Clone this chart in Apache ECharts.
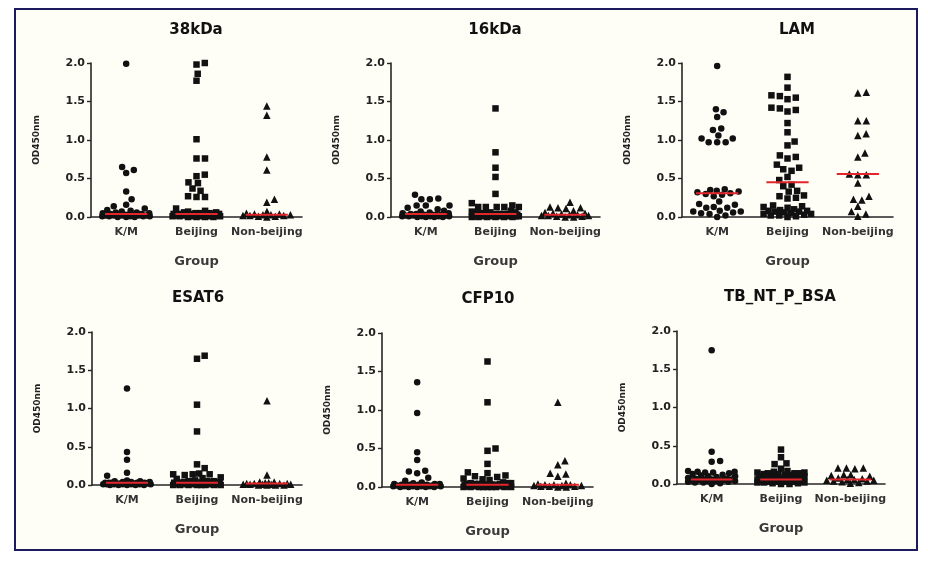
<!DOCTYPE html>
<html><head><meta charset="utf-8">
<script src="https://cdn.jsdelivr.net/npm/echarts@6/dist/echarts.min.js"></script>
<style>html,body{margin:0;padding:0;background:#fff}#c{width:928px;height:561px}</style>
</head><body><div id="c"></div>
<script>
// ---------------- DATA ----------------
const categories = ['K/M', 'Beijing', 'Non-beijing'];
const panelTitles = ['38kDa', '16kDa', 'LAM', 'ESAT6', 'CFP10', 'TB_NT_P_BSA'];
const yTickValues = [0, 0.5, 1.0, 1.5, 2.0];
const yAxisTitle = 'OD450nm';
const xAxisTitle = 'Group';

// 38kDa
const km38 = [1.99, 0.65, 0.61, 0.57, 0.33, 0.23, 0.16, 0.14, 0.11, 0.09, 0.08, 0.07, 0.06, 0.06, 0.05, 0.05, 0.04, 0.04, 0.03, 0.03, 0.03, 0.03, 0.02, 0.02, 0.02, 0.02, 0.02, 0.01, 0.01, 0.01, 0.01, 0.01, 0.00, 0.00, 0.00];
const bj38 = [2.00, 1.98, 1.86, 1.77, 1.01, 0.76, 0.76, 0.55, 0.53, 0.45, 0.44, 0.37, 0.34, 0.27, 0.26, 0.26, 0.11, 0.08, 0.07, 0.06, 0.06, 0.05, 0.05, 0.05, 0.04, 0.04, 0.04, 0.04, 0.03, 0.03, 0.03, 0.03, 0.03, 0.03, 0.02, 0.02, 0.02, 0.02, 0.02, 0.02, 0.01, 0.01, 0.01, 0.01, 0.01, 0.01, 0.00, 0.00, 0.00, 0.00];
const nb38 = [1.44, 1.32, 0.78, 0.61, 0.23, 0.19, 0.07, 0.05, 0.04, 0.04, 0.03, 0.03, 0.03, 0.02, 0.02, 0.02, 0.01, 0.01, 0.00];
const med38 = [0.04, 0.04, 0.03];

// 16kDa
const km16 = [0.29, 0.24, 0.23, 0.23, 0.15, 0.15, 0.15, 0.12, 0.10, 0.08, 0.07, 0.06, 0.05, 0.05, 0.04, 0.04, 0.03, 0.03, 0.03, 0.03, 0.02, 0.02, 0.02, 0.02, 0.02, 0.01, 0.01, 0.01, 0.01, 0.01, 0.01, 0.00, 0.00, 0.00, 0.00];
const bj16 = [1.41, 0.84, 0.64, 0.52, 0.30, 0.18, 0.15, 0.13, 0.13, 0.13, 0.13, 0.13, 0.08, 0.07, 0.06, 0.06, 0.05, 0.05, 0.05, 0.04, 0.04, 0.04, 0.04, 0.03, 0.03, 0.03, 0.03, 0.03, 0.03, 0.03, 0.02, 0.02, 0.02, 0.02, 0.02, 0.02, 0.02, 0.01, 0.01, 0.01, 0.01, 0.01, 0.01, 0.01, 0.00, 0.00, 0.00, 0.00, 0.00, 0.00];
const nb16 = [0.19, 0.13, 0.12, 0.12, 0.11, 0.08, 0.06, 0.05, 0.05, 0.04, 0.03, 0.03, 0.02, 0.02, 0.02, 0.01, 0.01, 0.00, 0.00];
const med16 = [0.04, 0.04, 0.03];

// LAM
const kmLAM = [1.96, 1.40, 1.36, 1.30, 1.15, 1.13, 1.06, 1.02, 1.02, 0.97, 0.97, 0.97, 0.36, 0.35, 0.34, 0.33, 0.32, 0.31, 0.30, 0.29, 0.27, 0.20, 0.17, 0.16, 0.13, 0.12, 0.12, 0.08, 0.07, 0.07, 0.06, 0.05, 0.04, 0.02, 0.00];
const bjLAM = [1.82, 1.68, 1.58, 1.57, 1.55, 1.53, 1.42, 1.41, 1.39, 1.37, 1.22, 1.10, 0.98, 0.93, 0.80, 0.78, 0.76, 0.68, 0.64, 0.62, 0.60, 0.52, 0.48, 0.42, 0.40, 0.34, 0.33, 0.28, 0.27, 0.25, 0.24, 0.15, 0.14, 0.13, 0.12, 0.10, 0.09, 0.08, 0.08, 0.07, 0.07, 0.06, 0.05, 0.04, 0.04, 0.03, 0.02, 0.02, 0.01, 0.00];
const nbLAM = [1.62, 1.61, 1.25, 1.25, 1.08, 1.06, 0.83, 0.78, 0.56, 0.55, 0.55, 0.44, 0.27, 0.23, 0.22, 0.14, 0.07, 0.04, 0.01];
const medLAM = [0.31, 0.45, 0.56];

// ESAT6
const kmES = [1.26, 0.43, 0.33, 0.16, 0.12, 0.06, 0.05, 0.05, 0.04, 0.04, 0.04, 0.03, 0.03, 0.03, 0.03, 0.03, 0.02, 0.02, 0.02, 0.02, 0.02, 0.02, 0.02, 0.01, 0.01, 0.01, 0.01, 0.01, 0.01, 0.01, 0.00, 0.00, 0.00, 0.00, 0.00];
const bjES = [1.69, 1.65, 1.05, 0.70, 0.27, 0.22, 0.15, 0.14, 0.14, 0.14, 0.13, 0.10, 0.09, 0.08, 0.06, 0.05, 0.05, 0.05, 0.04, 0.04, 0.04, 0.04, 0.03, 0.03, 0.03, 0.03, 0.03, 0.03, 0.02, 0.02, 0.02, 0.02, 0.02, 0.02, 0.02, 0.01, 0.01, 0.01, 0.01, 0.01, 0.01, 0.01, 0.00, 0.00, 0.00, 0.00, 0.00, 0.00, 0.00, 0.00];
const nbES = [1.10, 0.13, 0.04, 0.04, 0.03, 0.03, 0.02, 0.02, 0.02, 0.02, 0.01, 0.01, 0.01, 0.01, 0.01, 0.00, 0.00, 0.00, 0.00];
const medES = [0.03, 0.03, 0.02];

// CFP10
const kmCF = [1.36, 0.96, 0.45, 0.35, 0.21, 0.20, 0.18, 0.12, 0.08, 0.06, 0.05, 0.04, 0.04, 0.04, 0.03, 0.03, 0.03, 0.03, 0.02, 0.02, 0.02, 0.02, 0.02, 0.02, 0.01, 0.01, 0.01, 0.01, 0.01, 0.01, 0.00, 0.00, 0.00, 0.00, 0.00];
const bjCF = [1.63, 1.10, 0.50, 0.47, 0.30, 0.19, 0.18, 0.15, 0.14, 0.13, 0.11, 0.10, 0.09, 0.06, 0.05, 0.05, 0.05, 0.04, 0.04, 0.04, 0.04, 0.03, 0.03, 0.03, 0.03, 0.03, 0.03, 0.02, 0.02, 0.02, 0.02, 0.02, 0.02, 0.02, 0.01, 0.01, 0.01, 0.01, 0.01, 0.01, 0.01, 0.00, 0.00, 0.00, 0.00, 0.00, 0.00, 0.00, 0.00, 0.00];
const nbCF = [1.10, 0.34, 0.29, 0.18, 0.17, 0.14, 0.05, 0.04, 0.03, 0.03, 0.03, 0.02, 0.02, 0.02, 0.01, 0.01, 0.01, 0.00, 0.00];
const medCF = [0.03, 0.03, 0.03];

// TB_NT_P_BSA
const kmTB = [1.75, 0.42, 0.30, 0.29, 0.17, 0.16, 0.16, 0.15, 0.15, 0.14, 0.13, 0.12, 0.11, 0.10, 0.10, 0.09, 0.08, 0.07, 0.07, 0.06, 0.06, 0.06, 0.05, 0.05, 0.05, 0.05, 0.04, 0.04, 0.04, 0.03, 0.03, 0.02, 0.02, 0.01, 0.00];
const bjTB = [0.45, 0.35, 0.27, 0.26, 0.20, 0.17, 0.16, 0.15, 0.15, 0.14, 0.14, 0.14, 0.13, 0.13, 0.12, 0.12, 0.11, 0.10, 0.10, 0.09, 0.09, 0.08, 0.08, 0.08, 0.07, 0.07, 0.07, 0.06, 0.06, 0.06, 0.06, 0.05, 0.05, 0.05, 0.05, 0.04, 0.04, 0.04, 0.04, 0.03, 0.03, 0.03, 0.03, 0.02, 0.02, 0.02, 0.01, 0.01, 0.00, 0.00];
const nbTB = [0.21, 0.21, 0.21, 0.20, 0.12, 0.12, 0.11, 0.10, 0.08, 0.07, 0.06, 0.06, 0.05, 0.05, 0.04, 0.04, 0.03, 0.02, 0.01];
const medTB = [0.06, 0.06, 0.06];

const panelGroups = [
  [km38, bj38, nb38], [km16, bj16, nb16], [kmLAM, bjLAM, nbLAM],
  [kmES, bjES, nbES], [kmCF, bjCF, nbCF], [kmTB, bjTB, nbTB]
];
const panelMedians = [med38, med16, medLAM, medES, medCF, medTB];

// ---------------- LAYOUT / STYLE ----------------
const grids = [
  {left: 91, top: 63, width: 211, height: 154},
  {left: 391, top: 63, width: 209, height: 154},
  {left: 682, top: 63, width: 211, height: 154},
  {left: 92, top: 332, width: 210, height: 153},
  {left: 382, top: 333, width: 211, height: 154},
  {left: 677, top: 331, width: 208, height: 153}
];
const titlePos = [[196, 30], [495, 30], [797, 30], [198, 298], [488, 299], [780, 297]];
const symbols = ['circle', 'rect', 'triangle'];
const symbolSizes = [6.5, 6.5, 7.5];
const FONT = '"DejaVu Sans", Verdana, sans-serif';

// deterministic beeswarm layout (pixel space, elliptical spacing) computed from the values
function swarm(vals, sx, sy, Dx, Dy, maxOff) {
  const sorted = vals.slice().sort((a, b) => a - b);
  const placed = [];
  const out = [];
  const dist = (ax, ay, bx, by) => Math.hypot((ax - bx) / Dx, (ay - by) / Dy);
  for (const v of sorted) {
    const y = v * sy;
    const cands = [0];
    for (const p of placed) {
      const dy = Math.abs(p.y - y) / Dy;
      if (dy < 1) { const dx = Dx * Math.sqrt(1 - dy * dy); cands.push(p.x + dx, p.x - dx); }
    }
    for (let g = -maxOff; g <= maxOff; g += 0.5) cands.push(g);
    let best = 0, bestScore = -1, bestAbs = Infinity;
    for (const x of cands) {
      if (Math.abs(x) > maxOff + 1e-9) continue;
      let md = 1;
      for (const p of placed) { const d = dist(p.x, p.y, x, y); if (d < md) md = d; }
      const score = Math.min(md, 1 - 1e-6);
      if (score > bestScore + 1e-6 || (Math.abs(score - bestScore) <= 1e-6 && Math.abs(x) < bestAbs - 1e-9)) {
        best = x; bestScore = score; bestAbs = Math.abs(x);
      }
    }
    placed.push({x: best, y});
    out.push([best / sx, v]);
  }
  return out;
}

const option = {
  animation: false,
  backgroundColor: '#ffffff',
  textStyle: {fontFamily: FONT},
  graphic: [
    {type: 'rect', z: -10, silent: true, shape: {x: 15, y: 9, width: 902, height: 541},
     style: {fill: '#fffef6', stroke: '#1b1b5e', lineWidth: 2}}
  ].concat(panelTitles.map((t, i) => ({
    type: 'text', x: titlePos[i][0], y: titlePos[i][1], silent: true,
    style: {text: t, fill: '#111', font: 'bold 15px ' + FONT, textAlign: 'center', textVerticalAlign: 'middle'}
  }))),
  grid: grids.map(g => Object.assign({containLabel: false}, g)),
  xAxis: grids.map((g, i) => ({
    gridIndex: i, type: 'value', min: -0.5, max: 2.5, interval: 0.5,
    axisLine: {show: true, onZero: false, lineStyle: {color: '#262626', width: 1.6}},
    axisTick: {show: false}, splitLine: {show: false},
    axisLabel: {
      margin: 10, color: '#333', fontWeight: 'bold', fontSize: 11, fontFamily: FONT,
      showMinLabel: true, showMaxLabel: true,
      formatter: v => { const r = Math.round(v); return Math.abs(v - r) < 1e-6 && r >= 0 && r < categories.length ? categories[r] : ''; }
    },
    name: xAxisTitle, nameLocation: 'middle', nameGap: 38,
    nameTextStyle: {color: '#3a3a3a', fontWeight: 'bold', fontSize: 13, fontFamily: FONT}
  })),
  yAxis: grids.map((g, i) => ({
    gridIndex: i, type: 'value', min: yTickValues[0], max: yTickValues[yTickValues.length - 1], interval: 0.5,
    axisLine: {show: true, onZero: false, lineStyle: {color: '#262626', width: 1.6}},
    axisTick: {show: true, length: 4, lineStyle: {color: '#262626', width: 1.4}},
    splitLine: {show: false},
    axisLabel: {margin: 6, color: '#222', fontWeight: 'bold', fontSize: 11, fontFamily: FONT, formatter: v => v.toFixed(1)},
    name: yAxisTitle, nameLocation: 'middle', nameGap: 50, nameRotate: 90,
    nameTextStyle: {color: '#222', fontWeight: 'bold', fontSize: 9, fontFamily: FONT}
  })),
  series: []
};

panelGroups.forEach((groups, pi) => {
  const g = grids[pi];
  const sx = g.width / 3, sy = g.height / 2;
  groups.forEach((vals, gi) => {
    const pts = swarm(vals, sx, sy, 8.5, 7, 0.34 * sx).map(p => [p[0] + gi, p[1]]);
    option.series.push({
      type: 'scatter', xAxisIndex: pi, yAxisIndex: pi, name: categories[gi],
      symbol: symbols[gi], symbolSize: symbolSizes[gi], silent: true,
      itemStyle: {color: '#111', opacity: 1}, data: pts, z: 3
    });
    const m = panelMedians[pi][gi];
    option.series.push({
      type: 'line', xAxisIndex: pi, yAxisIndex: pi, silent: true, showSymbol: false, symbol: 'none',
      lineStyle: {color: '#e3262b', width: 2}, z: 5,
      data: [[gi - 0.3, m], [gi + 0.3, m]]
    });
  });
});

const chart = echarts.init(document.getElementById('c'), null, {renderer: 'canvas'});
chart.setOption(option);
</script></body></html>
